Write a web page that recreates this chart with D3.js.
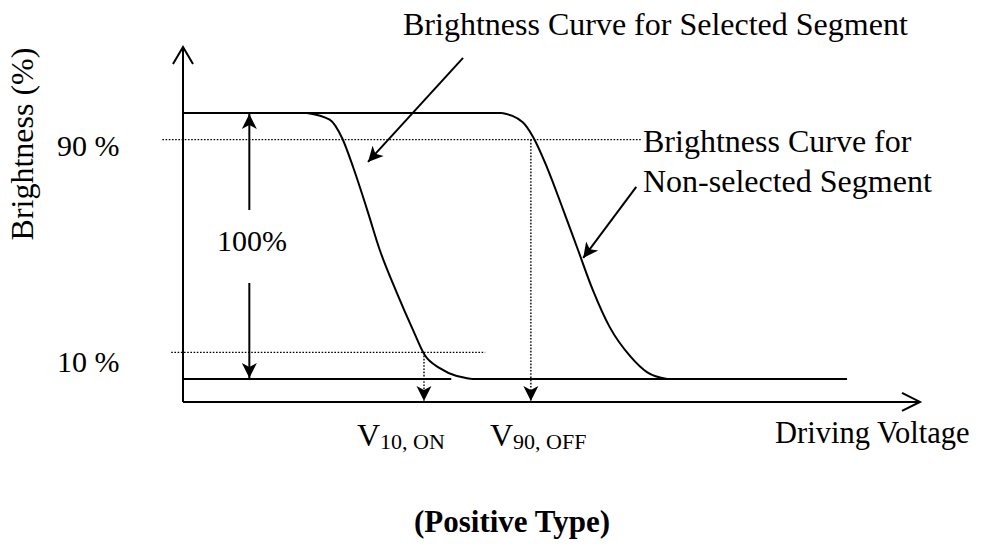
<!DOCTYPE html>
<html>
<head>
<meta charset="utf-8">
<script src="https://cdn.jsdelivr.net/npm/d3@7/dist/d3.min.js"></script>
<style>
  html, body { margin: 0; padding: 0; background: #fff; }
  svg { display: block; }
  text { font-family: "Liberation Serif", "Times New Roman", serif; fill: #000; }
</style>
</head>
<body>
<svg id="chart" width="985" height="550"></svg>
<script>
// ---------------- data ----------------
// Brightness curve for the selected segment (voltage in arbitrary units, brightness %)
const selectedVoltage    = [1.68, 1.99, 2.16, 2.31, 2.50, 2.67, 2.90, 3.12, 3.28, 3.49, 3.92];
const selectedBrightness = [100, 97.5, 90.5, 79.5, 63.5, 48.5, 32.5, 18.5, 9, 4, 0];
// Brightness curve for the non-selected segment
const nonSelectedVoltage    = [4.33, 4.61, 4.75, 4.94, 5.16, 5.36, 5.56, 5.79, 6.07, 6.30, 6.57];
const nonSelectedBrightness = [100, 96.5, 91, 79.5, 63.5, 48.5, 33.5, 19.5, 8.5, 2.5, 0];
// Reference levels
const levelValues = [90, 10];
const levelLabels = ["90 %", "10 %"];
const levelLineStart = [-0.28, -0.16];
const levelLineEnd = [6.23, 4.10];
// Threshold voltages
const thresholdVoltages = [3.27, 4.72];
const thresholdLevels = [10, 90];
const thresholdMain = ["V", "V"];
const thresholdSub = ["10, ON", "90, OFF"];
// Flat levels
const topLevelEnd = 4.33;
const bottomLeftEnd = 3.64;
const bottomRightEnd = 9.01;
// Axis extents
const axisFloor = -8.6;
const axisTop = 124.8;
const voltageMax = 10;
// Annotation arrows [fromV, fromB, toV, toB]
const annotSelected = [3.80, 120.7, 2.51, 81.6];
const annotNonSelected = [6.15, 72.2, 5.43, 45.5];
// Texts
const titleSelected = "Brightness Curve for Selected Segment";
const titleNonSelected = ["Brightness Curve for", "Non-selected Segment"];
const yLabel = "Brightness (%)";
const xLabel = "Driving Voltage";
const spanLabel = "100%";
const caption = "(Positive Type)";

// ---------------- chart ----------------
const svg = d3.select("#chart");
const x = d3.scaleLinear().domain([0, voltageMax]).range([183, 920]);
const y = d3.scaleLinear().domain([0, 100]).range([379, 113]);

const defs = svg.append("defs");
defs.append("marker")
  .attr("id", "stealth")
  .attr("markerUnits", "userSpaceOnUse")
  .attr("viewBox", "-16 -8 17 16")
  .attr("markerWidth", 17).attr("markerHeight", 16)
  .attr("refX", 0).attr("refY", 0)
  .attr("orient", "auto")
  .append("path")
  .attr("d", "M0,0 L-15,-7.5 L-11,0 L-15,7.5 Z")
  .attr("fill", "#000");

const stroke = "#000";
const lineW = 2;

// Axes
const x0 = x(0), yFloor = y(axisFloor), yTop = y(axisTop), xEnd = x(voltageMax);
svg.append("line").attr("x1", x0).attr("y1", yFloor).attr("x2", x0).attr("y2", yTop)
  .attr("stroke", stroke).attr("stroke-width", lineW);
svg.append("line").attr("x1", x0).attr("y1", yFloor).attr("x2", xEnd).attr("y2", yFloor)
  .attr("stroke", stroke).attr("stroke-width", lineW);
// open chevron heads
svg.append("path").attr("d", `M${x0 - 10},${yTop + 17} L${x0},${yTop} L${x0 + 10},${yTop + 17}`)
  .attr("fill", "none").attr("stroke", stroke).attr("stroke-width", lineW);
svg.append("path").attr("d", `M${xEnd - 18},${yFloor - 9} L${xEnd},${yFloor} L${xEnd - 18},${yFloor + 9}`)
  .attr("fill", "none").attr("stroke", stroke).attr("stroke-width", lineW);

// Dotted reference levels
const labelBaselineOffset = [16, 20];
levelValues.forEach((v, i) => {
  svg.append("line")
    .attr("x1", x(levelLineStart[i])).attr("x2", x(levelLineEnd[i]))
    .attr("y1", y(v)).attr("y2", y(v))
    .attr("stroke", stroke).attr("stroke-width", 1.4).attr("stroke-dasharray", "1.6,1.6");
  svg.append("text")
    .attr("x", 57).attr("y", y(v) + labelBaselineOffset[i])
    .attr("font-size", 30)
    .text(levelLabels[i]);
});

// Threshold verticals with arrows
thresholdVoltages.forEach((v, i) => {
  svg.append("line")
    .attr("x1", x(v)).attr("x2", x(v))
    .attr("y1", y(thresholdLevels[i])).attr("y2", yFloor - 1)
    .attr("stroke", stroke).attr("stroke-width", 1.4).attr("stroke-dasharray", "1.6,1.6")
    .attr("marker-end", "url(#stealth)");
});

// Flat lines
const flat = [[0, topLevelEnd, 100], [0, bottomLeftEnd, 0], [selectedVoltage[selectedVoltage.length - 1], bottomRightEnd, 0]];
flat.forEach(f => {
  svg.append("line").attr("x1", x(f[0])).attr("x2", x(f[1])).attr("y1", y(f[2])).attr("y2", y(f[2]))
    .attr("stroke", stroke).attr("stroke-width", lineW);
});

// Curves
const line = d3.line().x(d => x(d[0])).y(d => y(d[1])).curve(d3.curveMonotoneX);
const curves = [d3.zip(selectedVoltage, selectedBrightness), d3.zip(nonSelectedVoltage, nonSelectedBrightness)];
curves.forEach(c => {
  svg.append("path").attr("d", line(c)).attr("fill", "none")
    .attr("stroke", stroke).attr("stroke-width", lineW);
});

// 100% span arrow
const spanX = x(0.9);
svg.append("line").attr("x1", spanX).attr("x2", spanX).attr("y1", 210).attr("y2", y(100) + 1)
  .attr("stroke", stroke).attr("stroke-width", lineW).attr("marker-end", "url(#stealth)");
svg.append("line").attr("x1", spanX).attr("x2", spanX).attr("y1", 283).attr("y2", y(0) - 1)
  .attr("stroke", stroke).attr("stroke-width", lineW).attr("marker-end", "url(#stealth)");
svg.append("text").attr("x", 217).attr("y", 251).attr("font-size", 30).text(spanLabel);

// Annotation arrows
[annotSelected, annotNonSelected].forEach(a => {
  svg.append("line").attr("x1", x(a[0])).attr("y1", y(a[1])).attr("x2", x(a[2])).attr("y2", y(a[3]))
    .attr("stroke", stroke).attr("stroke-width", lineW).attr("marker-end", "url(#stealth)");
});

// Texts
svg.append("text").attr("x", 403).attr("y", 35).attr("font-size", 32).text(titleSelected);
titleNonSelected.forEach((t, i) => {
  svg.append("text").attr("x", 643).attr("y", 152 + i * 40).attr("font-size", 32).text(t);
});
svg.append("text").attr("transform", "translate(33,144) rotate(-90)")
  .attr("text-anchor", "middle").attr("font-size", 32).text(yLabel);
svg.append("text").attr("x", 775).attr("y", 443).attr("font-size", 30.5).text(xLabel);

const vx = [357, 490];
thresholdMain.forEach((m, i) => {
  const t = svg.append("text").attr("x", vx[i]).attr("y", 446).attr("font-size", 32);
  t.append("tspan").text(m);
  t.append("tspan").attr("font-size", 22).attr("dy", 3).text(thresholdSub[i]);
});

svg.append("text").attr("x", 512).attr("y", 532).attr("text-anchor", "middle")
  .attr("font-size", 31).attr("font-weight", "bold").text(caption);
</script>
</body>
</html>
